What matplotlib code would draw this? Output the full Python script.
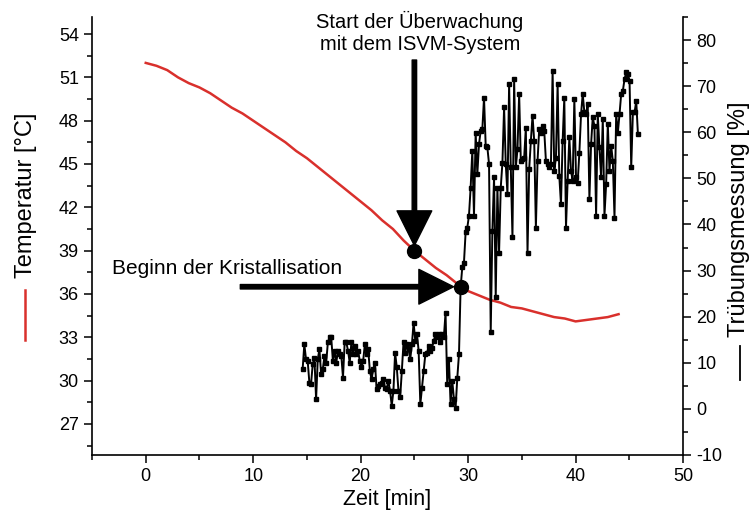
import matplotlib
matplotlib.use('Agg')
import matplotlib.pyplot as plt
import numpy as np
from matplotlib.lines import Line2D

plt.rcParams['font.family'] = ['Liberation Sans', 'DejaVu Sans']
plt.rcParams['axes.unicode_minus'] = False

## Temperaturverlauf (linke Achse)
zeit_temp = [0, 1, 2, 3, 4, 5, 6, 7, 8, 9, 10, 11, 12, 13, 14, 15, 16, 17, 18, 19, 20, 21,
             22, 23, 24, 25, 26, 27, 28, 29, 30, 31, 32, 33, 34, 35, 36, 37, 38, 39, 40,
             41, 42, 43, 44]
temperatur = [52.0, 51.8, 51.5, 51.0, 50.6, 50.3, 49.9, 49.4, 48.9, 48.5, 48.0, 47.5,
              47.0, 46.5, 45.9, 45.4, 44.8, 44.2, 43.6, 43.0, 42.4, 41.8, 41.1, 40.5,
              39.7, 39.0, 38.4, 37.8, 37.3, 36.7, 36.2, 35.9, 35.6, 35.4, 35.1, 35.0,
              34.8, 34.6, 34.4, 34.3, 34.1, 34.2, 34.3, 34.4, 34.6]

## Trübungsmessung (rechte Achse), vor und nach Beginn der Kristallisation
t1_start, t1_end = 14.6, 29.15
truebung1 = [8.6, 14.0, 10.8, 10.4, 5.7, 5.4, 9.7, 11.1, 2.1, 10.8, 12.9, 7.5, 8.6, 11.5,
             10.0, 14.4, 15.5, 15.5, 10.4, 12.6, 10.0, 12.6, 11.9, 11.5, 6.8, 14.4, 14.4,
             12.6, 10.0, 14.4, 11.9, 13.7, 11.9, 12.6, 10.4, 9.0, 10.4, 14.0, 11.9, 12.9,
             8.2, 6.4, 8.6, 10.0, 4.3, 5.0, 5.4, 5.7, 6.4, 4.6, 4.3, 6.1, 3.9, 0.7, 3.9,
             12.2, 9.0, 3.9, 2.5, 8.2, 14.4, 12.2, 14.0, 12.9, 10.8, 14.0, 18.7, 14.8,
             16.2, 12.6, 1.0, 4.6, 8.2, 11.9, 12.2, 13.7, 12.6, 13.3, 14.8, 16.2, 15.5,
             16.2, 14.4, 16.2, 15.5, 20.9, 5.4, 10.8, 1.0, 6.1, 2.1, 0.3, 6.8, 11.9]
t2_start, t2_end = 29.3, 45.8
truebung2 = [26.3, 30.7, 31.7, 38.3, 39.3, 41.9, 48.0, 56.0, 41.9, 59.9, 50.9, 57.4, 60.3,
             60.7, 67.5, 57.1, 56.7, 53.1, 16.6, 38.6, 50.2, 24.2, 48.0, 33.9, 48.0, 53.4,
             65.4, 53.1, 46.6, 70.4, 52.4, 37.2, 71.5, 52.4, 56.3, 68.3, 53.8, 54.2, 54.5,
             61.0, 33.9, 52.0, 58.1, 63.6, 58.1, 39.3, 53.8, 60.7, 59.9, 61.4, 60.3, 53.8,
             53.1, 52.4, 53.1, 73.3, 51.6, 54.5, 70.4, 50.5, 44.4, 58.1, 67.5, 39.3, 49.5,
             58.9, 51.6, 49.5, 67.2, 50.2, 49.1, 55.6, 63.9, 68.3, 64.3, 63.9, 66.1, 45.5,
             57.4, 63.2, 61.4, 41.9, 63.9, 56.7, 50.2, 62.8, 41.9, 48.7, 61.8, 51.6, 57.1,
             53.8, 41.5, 63.9, 59.9, 63.9, 68.3, 69.0, 71.5, 73.0, 72.6, 71.2, 52.4, 64.3,
             64.3, 66.8, 59.6]

zeit_truebung = np.concatenate([np.linspace(t1_start, t1_end, len(truebung1)),
                                np.linspace(t2_start, t2_end, len(truebung2))])
truebung = np.array(truebung1 + truebung2)

## Markierte Punkte
start_ueberwachung = (25.0, 39.0)
beginn_kristall = (29.3, 36.5)

fig = plt.figure(figsize=(7.53, 5.21), dpi=100)
ax = fig.add_axes([0.1222, 0.1267, 0.7849, 0.8407])
ax2 = ax.twinx()

ax.plot(zeit_temp, temperatur, color='#d9302c', lw=1.8, zorder=2)
ax2.plot(zeit_truebung, truebung, color='black', lw=1.4, marker='s', ms=2.4, zorder=3)

ax.set_xlim(-5, 50)
ax.set_ylim(24.85, 55.18)
ax2.set_ylim(-10, 85)

ax.set_xticks(np.arange(0, 51, 10))
ax.set_xticks(np.arange(-5, 51, 5), minor=True)
ax.set_yticks(np.arange(27, 55, 3))
ax.set_yticks(np.arange(25.5, 55.1, 1.5), minor=True)
ax2.set_yticks(np.arange(-10, 81, 10))
ax2.set_yticks(np.arange(-10, 86, 5), minor=True)

for a in (ax, ax2):
    a.spines['top'].set_visible(False)
    for s in a.spines.values():
        s.set_linewidth(1.2)
    a.tick_params(which='major', direction='out', length=5.5, width=1.1, labelsize=13, pad=4)
    a.tick_params(which='minor', direction='out', length=3.5, width=1.1)
ax.spines['right'].set_visible(False)
ax2.spines['left'].set_visible(False)
ax2.spines['bottom'].set_visible(False)

ax.set_xlabel('Zeit [min]', fontsize=15.5, labelpad=3)

# Achsenbeschriftungen mit Linien-Symbol
fig.text(0.035, 0.625, 'Temperatur [°C]', rotation=90, fontsize=17, ha='center', va='center')
fig.add_artist(Line2D([0.0332, 0.0332], [0.347, 0.443], color='#d9302c', lw=1.8))
fig.text(0.982, 0.58, 'Trübungsmessung [%]', rotation=90, fontsize=17, ha='center', va='center')
fig.add_artist(Line2D([0.983, 0.983], [0.27, 0.335], color='black', lw=1.3))

## Punkte und Pfeile
ax.plot(*start_ueberwachung, 'o', color='black', ms=10, zorder=5)
ax.plot(*beginn_kristall, 'o', color='black', ms=10, zorder=5)

arrow = dict(width=3.2, headwidth=25, headlength=25, color='black', shrink=0)
ax.annotate('', xy=(25.0, 39.35), xytext=(25.0, 52.2), arrowprops=arrow, zorder=6)
ax.annotate('', xy=(28.65, 36.5), xytext=(8.8, 36.5), arrowprops=arrow, zorder=6)

ax.text(25.5, 54.1, 'Start der Überwachung\nmit dem ISVM-System', fontsize=14.5,
        ha='center', va='center', linespacing=1.2)
ax.text(7.6, 37.75, 'Beginn der Kristallisation', fontsize=15, ha='center', va='center')

plt.savefig('out.png', dpi=100)
